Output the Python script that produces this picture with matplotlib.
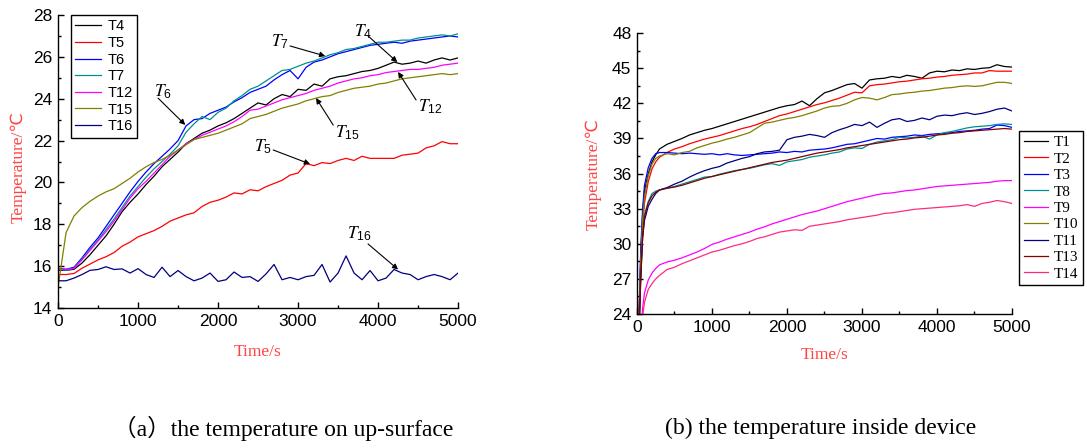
import matplotlib.pyplot as plt
from matplotlib.ticker import MultipleLocator

plt.rcParams['font.family'] = ['Liberation Sans', 'DejaVu Sans']
plt.rcParams['mathtext.fontset'] = 'stix'

# ---- (a) up-surface, one reading every 100 s ----
time_a = list(range(0, 5001, 100))
t4 = [15.80, 15.80, 15.85, 16.15, 16.55, 17.00, 17.45, 18.00, 18.60, 19.05,
      19.45, 19.90, 20.30, 20.75, 21.10, 21.45, 21.85, 22.10, 22.35, 22.50,
      22.70, 22.85, 23.05, 23.30, 23.55, 23.80, 23.70, 24.00, 24.20, 24.10,
      24.45, 24.40, 24.70, 24.60, 24.95, 25.05, 25.10, 25.20, 25.30, 25.35,
      25.45, 25.60, 25.75, 25.65, 25.70, 25.80, 25.70, 25.85, 25.95, 25.85, 25.95]
t5 = [15.60, 15.60, 15.65, 15.90, 16.10, 16.30, 16.45, 16.65, 16.95, 17.15,
      17.40, 17.55, 17.70, 17.90, 18.15, 18.30, 18.45, 18.55, 18.85, 19.05,
      19.15, 19.30, 19.50, 19.45, 19.65, 19.60, 19.80, 19.95, 20.10, 20.35,
      20.45, 20.90, 20.80, 20.95, 20.90, 21.05, 21.15, 21.05, 21.25, 21.15,
      21.15, 21.15, 21.15, 21.30, 21.35, 21.40, 21.65, 21.75, 21.95, 21.85, 21.85]
t6 = [15.90, 15.85, 15.95, 16.40, 16.90, 17.35, 17.90, 18.45, 19.00, 19.55,
      20.05, 20.50, 20.90, 21.25, 21.60, 22.00, 22.70, 23.00, 23.05, 23.30,
      23.45, 23.60, 23.85, 24.05, 24.30, 24.45, 24.60, 24.90, 25.15, 25.35,
      24.95, 25.50, 25.75, 25.85, 26.00, 26.15, 26.25, 26.35, 26.45, 26.55,
      26.60, 26.65, 26.70, 26.65, 26.75, 26.80, 26.85, 26.90, 26.95, 27.00, 26.95]
t7 = [15.85, 15.80, 15.90, 16.35, 16.80, 17.25, 17.75, 18.25, 18.80, 19.35,
      19.80, 20.25, 20.65, 21.00, 21.35, 21.75, 22.40, 22.80, 23.15, 23.00,
      23.35, 23.55, 23.90, 24.15, 24.45, 24.60, 24.85, 25.10, 25.35, 25.40,
      25.55, 25.70, 25.80, 25.95, 26.10, 26.20, 26.35, 26.40, 26.50, 26.60,
      26.70, 26.70, 26.75, 26.80, 26.80, 26.90, 26.95, 27.00, 27.05, 27.00, 27.10]
t12 = [15.90, 15.85, 15.90, 16.30, 16.75, 17.20, 17.65, 18.15, 18.70, 19.25,
       19.70, 20.05, 20.45, 20.85, 21.25, 21.55, 21.85, 22.05, 22.25, 22.40,
       22.55, 22.70, 22.90, 23.15, 23.45, 23.50, 23.65, 23.80, 23.95, 24.05,
       24.15, 24.25, 24.40, 24.50, 24.60, 24.75, 24.85, 24.95, 25.00, 25.10,
       25.15, 25.25, 25.30, 25.35, 25.40, 25.40, 25.45, 25.50, 25.60, 25.65, 25.70]
t15 = [15.00, 17.60, 18.40, 18.80, 19.10, 19.35, 19.55, 19.70, 19.95, 20.20,
       20.50, 20.75, 20.95, 21.10, 21.30, 21.55, 21.80, 22.05, 22.15, 22.25,
       22.35, 22.50, 22.65, 22.80, 23.05, 23.15, 23.25, 23.40, 23.55, 23.65,
       23.75, 23.90, 24.00, 24.10, 24.15, 24.30, 24.40, 24.50, 24.55, 24.60,
       24.70, 24.75, 24.85, 24.95, 25.00, 25.05, 25.10, 25.15, 25.20, 25.15, 25.20]
t16 = [15.30, 15.30, 15.43, 15.60, 15.80, 15.84, 15.97, 15.84, 15.87, 15.67,
       15.88, 15.60, 15.46, 15.95, 15.50, 15.79, 15.50, 15.30, 15.43, 15.67,
       15.27, 15.35, 15.72, 15.46, 15.50, 15.27, 15.63, 16.08, 15.35, 15.46,
       15.35, 15.50, 15.56, 16.08, 15.24, 15.67, 16.49, 15.67, 15.35, 15.79,
       15.30, 15.43, 15.84, 15.67, 15.60, 15.35, 15.50, 15.60, 15.50, 15.35, 15.67]

names_a = ['T4', 'T5', 'T6', 'T7', 'T12', 'T15', 'T16']
series_a = [t4, t5, t6, t7, t12, t15, t16]
colors_a = ['black', '#ff0000', '#0000ff', '#009090', '#ff00ff', '#808000', '#000080']

# ---- (b) inside device, denser at the start ----
time_b = [0, 25, 50, 75, 100, 150, 200, 250] + list(range(300, 5001, 100))
t1 = [20, 23, 29, 32.5, 34.5, 36.0, 37.0, 37.6,
      38.1, 38.5, 38.75, 39.0, 39.3, 39.5, 39.7, 39.85, 40.05, 40.25,
      40.45, 40.65, 40.85, 41.05, 41.25, 41.45, 41.65, 41.8, 41.9, 42.2,
      41.8, 42.4, 42.9, 43.1, 43.35, 43.6, 43.7, 43.3, 44.0, 44.1,
      44.15, 44.3, 44.2, 44.4, 44.3, 44.15, 44.6, 44.75, 44.7, 44.85,
      44.8, 44.95, 44.9, 45.0, 45.05, 45.3, 45.15, 45.1]
t2 = [20, 22.5, 28, 31.5, 33.5, 35.3, 36.4, 37.0,
      37.4, 37.8, 38.1, 38.3, 38.55, 38.75, 38.95, 39.1, 39.25, 39.45,
      39.65, 39.85, 40.0, 40.2, 40.45, 40.7, 40.95, 41.1, 41.3, 41.5,
      41.7, 41.9, 42.05, 42.25, 42.45, 42.7, 42.95, 42.9, 43.5, 43.6,
      43.65, 43.75, 43.85, 43.9, 44.0, 44.1, 44.15, 44.25, 44.3, 44.4,
      44.45, 44.5, 44.6, 44.6, 44.8, 44.75, 44.75, 44.75]
t3 = [20, 23.5, 29.5, 33, 35, 36.5, 37.3, 37.7,
      37.8, 37.8, 37.75, 37.7, 37.75, 37.7, 37.65, 37.7, 37.6, 37.7,
      37.6, 37.55, 37.6, 37.65, 37.7, 37.75, 37.85, 37.8, 37.9, 37.85,
      38.0, 38.05, 38.1, 38.2, 38.35, 38.5, 38.55, 38.7, 38.85, 39.0,
      38.95, 39.1, 39.15, 39.2, 39.3, 39.25, 39.35, 39.4, 39.45, 39.5,
      39.6, 39.65, 39.7, 39.8, 39.85, 40.15, 40.1, 39.95]
t8 = [20, 22, 27.5, 31, 32.5, 33.6, 34.3, 34.5,
      34.6, 34.75, 34.9, 35.1, 35.3, 35.5, 35.7, 35.75, 35.95, 36.1,
      36.25, 36.35, 36.45, 36.6, 36.75, 36.85, 36.7, 37.0, 37.1, 37.2,
      37.4, 37.5, 37.6, 37.75, 37.85, 38.1, 38.2, 38.15, 38.5, 38.7,
      38.8, 38.9, 39.1, 39.05, 39.1, 39.2, 38.95, 39.3, 39.5, 39.6,
      39.75, 39.9, 40.0, 40.05, 40.1, 40.2, 40.25, 40.2]
t9 = [18, 20, 22, 24.5, 25.8, 26.9, 27.5, 27.9,
      28.2, 28.45, 28.6, 28.8, 29.05, 29.3, 29.6, 29.95, 30.15, 30.4,
      30.6, 30.8, 31.0, 31.25, 31.45, 31.7, 31.9, 32.1, 32.3, 32.5,
      32.65, 32.8, 33.0, 33.2, 33.4, 33.6, 33.75, 33.9, 34.05, 34.2,
      34.3, 34.35, 34.45, 34.55, 34.6, 34.7, 34.8, 34.9, 34.95, 35.0,
      35.05, 35.1, 35.15, 35.2, 35.25, 35.35, 35.4, 35.4]
t10 = [20, 23, 28.5, 32, 34, 35.8, 36.8, 37.3,
       37.5, 37.7, 37.6, 37.8, 37.9, 38.2, 38.4, 38.6, 38.75, 38.95,
       39.1, 39.3, 39.5, 39.9, 40.3, 40.4, 40.55, 40.7, 40.8, 40.95,
       41.15, 41.35, 41.6, 41.75, 41.8, 42.0, 42.3, 42.5, 42.45, 42.3,
       42.5, 42.75, 42.8, 42.9, 42.95, 43.05, 43.1, 43.2, 43.3, 43.35,
       43.45, 43.5, 43.45, 43.5, 43.65, 43.8, 43.8, 43.7]
t11 = [20, 22, 27, 30.5, 32, 33.2, 33.8, 34.3,
       34.6, 34.8, 35.1, 35.35, 35.7, 36.0, 36.25, 36.45, 36.6, 36.9,
       37.1, 37.3, 37.45, 37.7, 37.85, 37.9, 38.0, 38.9, 39.1, 39.2,
       39.35, 39.25, 39.1, 39.5, 39.75, 39.95, 40.2, 40.1, 40.4, 39.95,
       40.3, 40.6, 40.7, 40.45, 40.55, 40.75, 40.6, 40.9, 41.0, 40.95,
       41.1, 41.2, 41.05, 41.15, 41.3, 41.5, 41.6, 41.35]
t13 = [20, 22, 27, 30.5, 32.3, 33.5, 34.1, 34.4,
       34.6, 34.75, 34.85, 35.0, 35.2, 35.4, 35.6, 35.75, 35.9, 36.05,
       36.2, 36.35, 36.5, 36.65, 36.8, 36.95, 37.05, 37.15, 37.3, 37.45,
       37.6, 37.75, 37.85, 37.95, 38.05, 38.2, 38.3, 38.4, 38.5, 38.6,
       38.7, 38.8, 38.9, 38.95, 39.05, 39.1, 39.2, 39.3, 39.35, 39.45,
       39.5, 39.6, 39.65, 39.7, 39.75, 39.8, 39.85, 39.8]
t14 = [17, 19, 21, 23.8, 25.0, 26.1, 26.6, 27.0,
       27.3, 27.8, 28.0, 28.3, 28.55, 28.8, 29.05, 29.3, 29.45, 29.65,
       29.85, 30.0, 30.2, 30.45, 30.6, 30.8, 31.0, 31.1, 31.2, 31.15,
       31.5, 31.6, 31.7, 31.8, 31.9, 32.05, 32.15, 32.25, 32.35, 32.45,
       32.6, 32.65, 32.75, 32.85, 32.95, 33.0, 33.05, 33.1, 33.15, 33.2,
       33.25, 33.35, 33.2, 33.45, 33.55, 33.7, 33.6, 33.45]

names_b = ['T1', 'T2', 'T3', 'T8', 'T9', 'T10', 'T11', 'T13', 'T14']
series_b = [t1, t2, t3, t8, t9, t10, t11, t13, t14]
colors_b = ['black', '#ff0000', '#0000ff', '#009090', '#ff00ff', '#808000',
            '#000080', '#800000', '#ff2a80']

label_red = '#ff4444'
serif = ['Liberation Serif', 'DejaVu Sans']

fig = plt.figure(figsize=(10.87, 4.48), dpi=100, facecolor='white')
ax1 = fig.add_axes([0.0534, 0.3125, 0.368, 0.654])
ax2 = fig.add_axes([0.586, 0.299, 0.345, 0.627])

for name, ys, c in zip(names_a, series_a, colors_a):
    ax1.plot(time_a, ys, color=c, lw=0.9, label=name)
for name, ys, c in zip(names_b, series_b, colors_b):
    ax2.plot(time_b, ys, color=c, lw=0.9, label=name)

for ax, ylim, ymaj in [(ax1, (14, 28), 2), (ax2, (24, 48), 3)]:
    ax.set_xlim(0, 5000)
    ax.set_ylim(*ylim)
    ax.xaxis.set_major_locator(MultipleLocator(1000))
    ax.xaxis.set_minor_locator(MultipleLocator(500))
    ax.yaxis.set_major_locator(MultipleLocator(ymaj))
    ax.yaxis.set_minor_locator(MultipleLocator(ymaj / 2))
    ax.spines['top'].set_visible(False)
    ax.spines['right'].set_visible(False)
    for s in ('left', 'bottom'):
        ax.spines[s].set_linewidth(1.0)
    ax.tick_params(which='major', direction='in', length=4, width=1, labelsize=12.5, pad=4)
    ax.tick_params(which='minor', direction='in', length=2.5, width=1)
    ax.set_xlabel('Time/s', color=label_red, family=serif, fontsize=12.5)
    ax.set_ylabel('Temperature/℃', color=label_red, family=serif, fontsize=12.5)
    ax.xaxis.label.set_va('center')
    ax.yaxis.label.set_va('center')

ax1.xaxis.set_label_coords(0.5, -0.15)
ax1.yaxis.set_label_coords(-0.10, 0.48)
ax2.xaxis.set_label_coords(0.5, -0.147)
ax2.yaxis.set_label_coords(-0.117, 0.5)

ax1.legend(loc='upper left', bbox_to_anchor=(0.032, 1.0), borderaxespad=0,
           fontsize=10.5, handlelength=1.8, labelspacing=0.18, borderpad=0.3,
           handletextpad=0.4, fancybox=False, edgecolor='black', framealpha=1)
ax2.legend(loc='upper left', bbox_to_anchor=(0.9375, 0.7076),
           bbox_transform=fig.transFigure, borderaxespad=0,
           prop={'family': serif, 'size': 11}, handlelength=1.6,
           labelspacing=0.18, borderpad=0.3, handletextpad=0.4,
           fancybox=False, edgecolor='black', framealpha=1)

# arrow callouts on (a): label, text position, arrow tail, arrow head
callouts = [
    ('6', (1310, 24.32), (1250, 24.03), (1590, 22.75)),
    ('7', (2775, 26.70), (2900, 26.52), (3340, 26.04)),
    ('4', (3810, 27.20), (3875, 27.00), (4240, 25.75)),
    ('12', (4650, 23.60), (4475, 23.94), (4250, 25.28)),
    ('15', (3610, 22.36), (3440, 22.74), (3225, 24.03)),
    ('5', (2560, 21.70), (2690, 21.55), (3150, 20.88)),
    ('16', (3770, 17.54), (3875, 17.06), (4250, 15.84)),
]
for sub, tpos, tail, head in callouts:
    ax1.text(*tpos, r'$T_{\mathregular{%s}}$' % sub, fontsize=12.5,
             ha='center', va='center')
    ax1.annotate('', xy=head, xytext=tail,
                 arrowprops=dict(arrowstyle='-|>', color='black', lw=0.8,
                                 mutation_scale=8, shrinkA=0, shrinkB=0))

fig.text(283 / 1087, 1 - 428 / 448, '（a）the temperature on up-surface',
         family=['Liberation Serif', 'Noto Sans CJK SC'], fontsize=17,
         ha='center', va='center')
fig.text(821 / 1087, 1 - 428 / 448, '(b) the temperature inside device',
         family=['Liberation Serif', 'Noto Sans CJK SC'], fontsize=17,
         ha='center', va='center')

fig.savefig('out.png', dpi=100, facecolor='white')
